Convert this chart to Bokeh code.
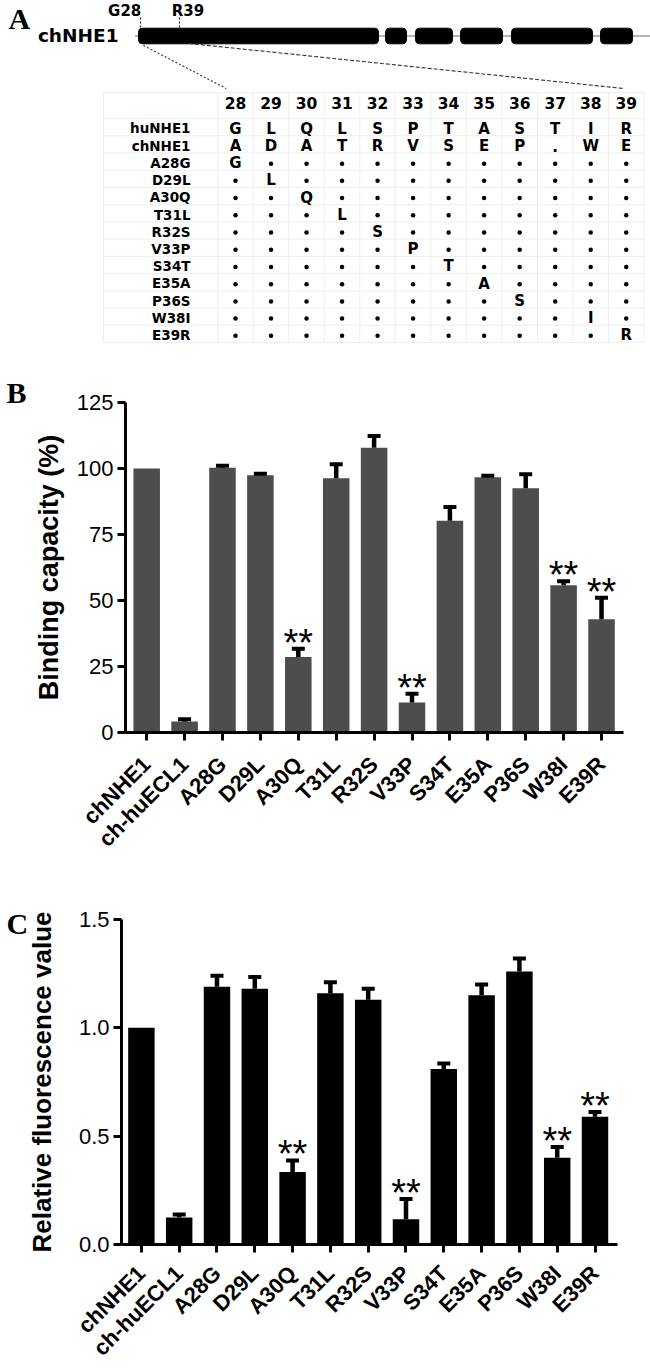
import math
from bokeh.plotting import figure
from bokeh.layouts import column
from bokeh.models import Range1d, FixedTicker, PrintfTickFormatter
from bokeh.core.properties import value
from bokeh.embed import file_html
from bokeh.resources import INLINE

# ---------------- data ----------------
residues = list(range(28, 40))
hu_seq = list("GLQLSPTASTIR")
ch_seq = list("ADATRVSEP.WE")
mutants = ["A28G", "D29L", "A30Q", "T31L", "R32S", "V33P",
           "S34T", "E35A", "P36S", "W38I", "E39R"]
row_names = ["huNHE1", "chNHE1"] + mutants

groups = ["chNHE1", "ch-huECL1"] + mutants
binding = [100.0, 4.2, 100.3, 97.4, 28.6, 96.3, 107.9, 11.4, 80.2, 96.7, 92.5, 55.8, 42.9]
binding_err = [0.0, 0.8, 0.7, 0.6, 3.1, 5.3, 4.4, 3.3, 5.2, 0.6, 5.3, 1.5, 8.1]
fluor = [1.00, 0.125, 1.19, 1.18, 0.335, 1.16, 1.13, 0.117, 0.81, 1.15, 1.26, 0.40, 0.59]
fluor_err = [0.0, 0.013, 0.05, 0.055, 0.053, 0.05, 0.05, 0.093, 0.025, 0.05, 0.06, 0.05, 0.022]
significant = ["A30Q", "V33P", "W38I", "E39R"]

binding_ticks = [0, 25, 50, 75, 100, 125]
fluor_ticks = [0.0, 0.5, 1.0, 1.5]

# schematic of chNHE1 (drawing units of panel A)
domain_left = [138, 385, 415, 460, 511, 600]
domain_right = [378, 406, 452, 502, 592, 632]
site_res = [28, 39]
site_labels = ["G28", "R39"]

# ---------------- style ----------------
W = 650
HA, HB, HC = 368, 507, 497
SANS = "Liberation Sans"
TAB = "DejaVu Sans"
SERIF = "Liberation Serif"

# ---------------- panel A ----------------
pa = figure(width=W, height=HA, x_range=Range1d(0, W), y_range=Range1d(HA, 0),
            x_axis_location=None, y_axis_location=None, min_border=0,
            toolbar_location=None, output_backend="svg")
pa.frame_align = False
pa.outline_line_color = None
pa.grid.visible = False

pa.text(x=[8], y=[18], text=["A"], text_font=value(SERIF), text_font_style="bold",
        text_font_size="30px", text_baseline="alphabetic", text_align="left", text_color="black")

gene_y = 35.5
pa.segment(x0=[134.6], y0=[gene_y], x1=[W + 10], y1=[gene_y], line_color="#9a9a9a", line_width=1.5)
pa.quad(left=domain_left, right=domain_right, top=gene_y - 7.8, bottom=gene_y + 7.8,
        fill_color="black", line_color="black", border_radius=4)
pa.text(x=[118], y=[34.5], text=["chNHE1"], text_font=value(TAB), text_font_style="bold",
        text_font_size="18.5px", text_baseline="alphabetic", text_align="right", text_color="black")


def site_x(res):
    return 140 + (res - 28) * (179 - 140) / 11


sxs = [site_x(r) for r in site_res]
pa.segment(x0=sxs, y0=[17] * 2, x1=sxs, y1=[gene_y - 7.8] * 2, line_dash="2 2",
           line_color="#222222", line_width=1.2)
pa.text(x=[124.2, 187.4], y=[10.5, 10.5], text=site_labels, text_font=value(TAB),
        text_font_style="bold", text_font_size="15px", text_baseline="alphabetic",
        text_align="center", text_color="black")

col_w = 35.52
row_h = 17.22


def col_x(res):
    return 235 + (res - 28) * col_w


def row_y(i):
    return 126.7 + i * row_h


pa.segment(x0=[sxs[0] + 3], y0=[45], x1=[col_x(28) - 9.3], y1=[88], line_dash="2 2",
           line_color="#333333", line_width=1.1)
pa.segment(x0=[sxs[1] + 9.4], y0=[43], x1=[col_x(39) - 2.5], y1=[88], line_dash="4 2",
           line_color="#333333", line_width=1.1)

# faint table grid
grid_top = 92
grid_bottom = row_y(len(row_names) - 1) + row_h / 2
vx = [103] + [col_x(r) - col_w / 2 for r in residues] + [col_x(residues[-1]) + col_w / 2]
pa.segment(x0=vx, y0=[grid_top] * len(vx), x1=vx, y1=[grid_bottom] * len(vx),
           line_color="#eeeeee", line_width=1)
hy = [grid_top] + [row_y(i) - row_h / 2 for i in range(len(row_names))] + [grid_bottom]
pa.segment(x0=[103] * len(hy), y0=hy, x1=[vx[-1]] * len(hy), y1=hy, line_color="#eeeeee", line_width=1)

pa.text(x=[col_x(r) for r in residues], y=[102.3] * len(residues), text=[str(r) for r in residues],
        text_font=value(TAB), text_font_style="bold", text_font_size="15.5px",
        text_baseline="alphabetic", text_align="center", text_color="black")
pa.text(x=[190] * len(row_names), y=[row_y(i) + 1.2 for i in range(len(row_names))], text=row_names,
        text_font=value(TAB), text_font_style="bold", text_font_size="13.5px",
        text_baseline="alphabetic", text_align="right", text_color="black")

cell_x, cell_y, cell_t = [], [], []
dot_x, dot_y = [], []
for i, r in enumerate(residues):
    cell_x += [col_x(r), col_x(r)]
    cell_y += [row_y(0) + 1.5, row_y(1) + 1.5]
    cell_t += [hu_seq[i], ch_seq[i]]
for j, m in enumerate(mutants):
    pos = int(m[1:-1])
    new = m[-1]
    for r in residues:
        if r == pos:
            cell_x.append(col_x(r))
            cell_y.append(row_y(j + 2) + 1.5)
            cell_t.append(new)
        else:
            dot_x.append(col_x(r))
            dot_y.append(row_y(j + 2) + 2)
pa.text(x=cell_x, y=cell_y, text=cell_t, text_font=value(TAB), text_font_style="bold",
        text_font_size="15px", text_baseline="alphabetic", text_align="center", text_color="black")
pa.scatter(x=dot_x, y=dot_y, size=4.5, fill_color="black", line_color=None)

# ---------------- panels B and C ----------------
idx = list(range(len(groups)))


def bar_panel(vals, errs, ticks, y_end, height, borders, x_start, x_end, bar_color,
              ylabel, ylabel_size, ylabel_standoff, xlab_size, xlab_standoff,
              letter, letter_standoff, tick_fmt=None):
    left, right, top, bottom = borders
    p = figure(width=W, height=height, x_range=Range1d(x_start, x_end), y_range=Range1d(0, y_end),
               min_border_left=left, min_border_right=right, min_border_top=top,
               min_border_bottom=bottom, toolbar_location=None, output_backend="svg")
    p.frame_align = False
    p.outline_line_color = None
    p.grid.visible = False

    p.title.text = letter
    p.title.align = "left"
    p.title.offset = 6 - left
    p.title.text_font = SERIF
    p.title.text_font_style = "bold"
    p.title.text_font_size = "30px"
    p.title.text_color = "black"
    p.title.vertical_align = "bottom"
    p.title.standoff = letter_standoff

    p.vbar(x=idx, top=vals, width=0.7, fill_color=bar_color, line_color=None)
    ex = [i for i, e in zip(idx, errs) if e > 0]
    ev = [v for v, e in zip(vals, errs) if e > 0]
    eu = [v + e for v, e in zip(vals, errs) if e > 0]
    p.segment(x0=ex, y0=ev, x1=ex, y1=eu, line_color="black", line_width=4.5)
    p.rect(x=ex, y=eu, width=13, height=4, width_units="screen", height_units="screen",
           fill_color="black", line_color=None)
    s_x = [groups.index(g) for g in significant]
    s_y = [vals[i] + errs[i] for i in s_x]
    p.text(x=s_x, y=s_y, text=["**"] * len(s_x), text_font=value(SANS), text_font_size="38px",
           text_align="center", text_baseline="alphabetic", y_offset=-6, text_color="black")

    for ax in (p.xaxis[0], p.yaxis[0]):
        ax.axis_line_width = 3
        ax.axis_line_color = "black"
        ax.major_tick_line_width = 3
        ax.major_tick_line_color = "black"
        ax.major_tick_out = 8
        ax.major_tick_in = 0
        ax.minor_tick_line_color = None
        ax.major_label_text_color = "black"

    xa = p.xaxis[0]
    xa.ticker = FixedTicker(ticks=idx, minor_ticks=[])
    xa.major_label_overrides = {i: g for i, g in zip(idx, groups)}
    xa.major_label_orientation = math.pi / 4
    xa.major_label_text_font = SANS
    xa.major_label_text_font_style = "bold"
    xa.major_label_text_font_size = xlab_size
    xa.major_label_standoff = xlab_standoff

    ya = p.yaxis[0]
    ya.ticker = FixedTicker(ticks=ticks, minor_ticks=[])
    if tick_fmt:
        ya.formatter = PrintfTickFormatter(format=tick_fmt)
    ya.major_label_text_font = SANS
    ya.major_label_text_font_size = "22px"
    ya.major_label_standoff = 4
    ya.axis_label = ylabel
    ya.axis_label_text_font = SANS
    ya.axis_label_text_font_style = "bold"
    ya.axis_label_text_font_size = ylabel_size
    ya.axis_label_text_color = "black"
    ya.axis_label_standoff = ylabel_standoff
    return p


pb = bar_panel(binding, binding_err, binding_ticks, 125, HB, (125, 27, 34, 143), -0.559, 12.58,
               "#4d4d4d", "Binding capacity (%)", "27px", 10, "22px", 20, "B", -12)
pc = bar_panel(fluor, fluor_err, fluor_ticks, 1.5, HC, (121, 33, 44, 124), -0.526, 12.595,
               "black", "Relative fluorescence value", "26px", 19, "22px", 17, "C", -40,
               tick_fmt="%.1f")

layout = column(pa, pb, pc)
open("out.html", "w").write(file_html(layout, INLINE))
